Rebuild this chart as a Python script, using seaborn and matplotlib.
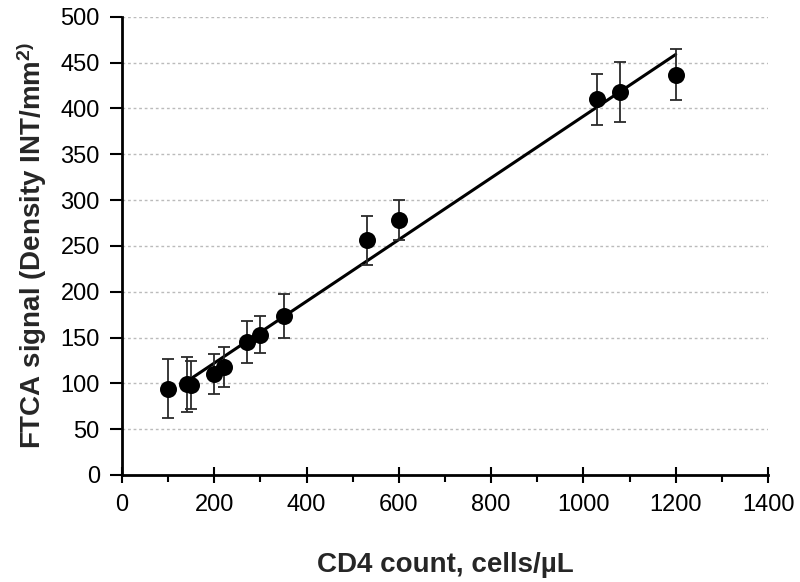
import numpy as np
import pandas as pd
import matplotlib
matplotlib.use("Agg")
import matplotlib.pyplot as plt
from matplotlib.ticker import MultipleLocator
import seaborn as sns

# values
cd4_count = [100, 140, 150, 200, 220, 270, 300, 350, 530, 600, 1030, 1080, 1200]
ftca_signal = [94, 99, 98, 110, 118, 145, 153, 174, 256, 278, 410, 418, 437]
ftca_err = [32, 30, 26, 22, 22, 23, 20, 24, 27, 22, 28, 33, 28]
x_ticks = [0, 200, 400, 600, 800, 1000, 1200, 1400]
y_ticks = [0, 50, 100, 150, 200, 250, 300, 350, 400, 450, 500]

df = pd.DataFrame({"cd4": cd4_count, "signal": ftca_signal, "err": ftca_err})

sns.set_style("ticks")
plt.rcParams["font.family"] = ["Liberation Sans", "DejaVu Sans"]
plt.rcParams["mathtext.fontset"] = "custom"
plt.rcParams["mathtext.bf"] = "Liberation Sans:bold"
plt.rcParams["mathtext.rm"] = "Liberation Sans"

fig = plt.figure(figsize=(8, 5.82), dpi=100)
ax = fig.add_axes([0.1525, 0.184, 0.8075, 0.787])

# linear fit over the range drawn in the reference
slope, intercept = np.polyfit(df["cd4"], df["signal"], 1)
fit_x = np.array([150, df["cd4"].max()])
ax.plot(fit_x, slope * fit_x + intercept, color="black", lw=2.2, zorder=2)

ax.errorbar(df["cd4"], df["signal"], yerr=df["err"], fmt="none",
            ecolor="#2a2a2a", elinewidth=1.3, capsize=4, capthick=1.3, zorder=3)
sns.scatterplot(data=df, x="cd4", y="signal", ax=ax, color="black",
                s=150, edgecolor="black", linewidth=0, zorder=4)

ax.set_xlim(0, 1400)
ax.set_ylim(0, 500)
ax.set_xticks(x_ticks)
ax.set_yticks(y_ticks)
ax.xaxis.set_minor_locator(MultipleLocator(100))
ax.yaxis.grid(True, color="#bbbbbb", linestyle=(0, (2, 2)), lw=1)
ax.set_axisbelow(True)

for side in ["top", "right"]:
    ax.spines[side].set_visible(False)
for side in ["left", "bottom"]:
    ax.spines[side].set_linewidth(2)
    ax.spines[side].set_color("black")
ax.tick_params(axis="y", direction="out", length=9, width=1.5, labelsize=17,
               colors="black", pad=7)
ax.tick_params(axis="x", which="major", direction="inout", length=12, width=1.5,
               labelsize=17, colors="black", pad=8)
ax.tick_params(axis="x", which="minor", direction="out", length=5, width=1.5,
               colors="black")

ax.set_xlabel("CD4 count, cells/\u00b5L", fontsize=20, fontweight="bold", labelpad=26)
ax.set_ylabel("FTCA signal (Density INT/mm$\\mathbf{^{2)}}$", fontsize=20,
              fontweight="bold", labelpad=8)

fig.savefig("out.png", dpi=100, facecolor="white")
